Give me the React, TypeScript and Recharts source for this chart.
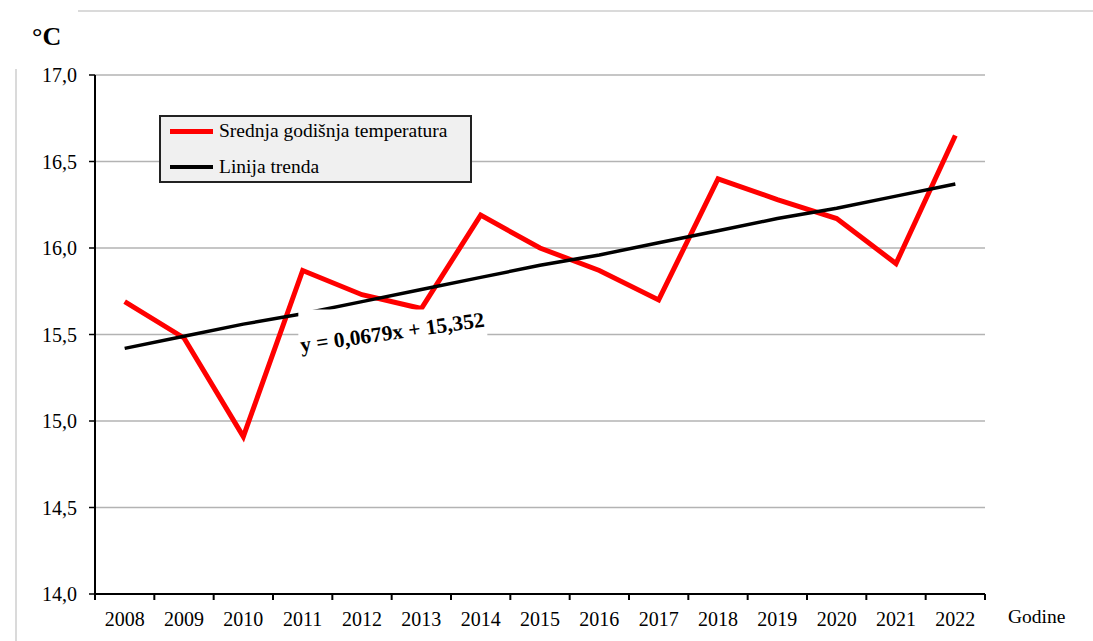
import React from 'react';
import { LineChart, Line, XAxis, YAxis, CartesianGrid, Legend, ReferenceDot } from 'recharts';

const years = ['2008', '2009', '2010', '2011', '2012', '2013', '2014', '2015', '2016', '2017', '2018', '2019', '2020', '2021', '2022'];
const temperature = [15.69, 15.48, 14.91, 15.87, 15.73, 15.65, 16.19, 16.0, 15.87, 15.7, 16.4, 16.28, 16.17, 15.91, 16.65];
const trend = [15.42, 15.49, 15.56, 15.62, 15.69, 15.76, 15.83, 15.9, 15.96, 16.03, 16.1, 16.17, 16.23, 16.3, 16.37];
const yTicks = [14, 14.5, 15, 15.5, 16, 16.5, 17];
const seriesNames = ['Srednja godišnja temperatura', 'Linija trenda'];
const trendEquation = 'y = 0,0679x + 15,352';
const unitLabel = '°C';
const xAxisTitle = 'Godine';
const equationAnchorYear = '2013';
const equationAnchorValue = 15.5;

const data = years.map((year, i) => ({ year, temp: temperature[i], trend: trend[i] }));

const FONT = '"Liberation Serif", "Times New Roman", serif';
const X_TICK_SIZE = 6;
const X_TICK_MARGIN = 12;

const XTick = (props: any) => {
  const { x, y, payload, index, visibleTicksCount, width } = props;
  const half = width && visibleTicksCount ? width / visibleTicksCount / 2 : (payload && payload.offset) || 29.67;
  const axisY = y - X_TICK_SIZE - X_TICK_MARGIN;
  return (
    <g>
      <line x1={x - half} x2={x - half} y1={axisY} y2={axisY + X_TICK_SIZE} stroke="#000" strokeWidth={2} />
      {index === visibleTicksCount - 1 && (
        <line x1={x + half} x2={x + half} y1={axisY} y2={axisY + X_TICK_SIZE} stroke="#000" strokeWidth={2} />
      )}
      <text x={x} y={y} dy="0.71em" textAnchor="middle" fontFamily={FONT} fontSize={20} fill="#000">
        {payload.value}
      </text>
    </g>
  );
};

const EquationLabel = (props: any) => {
  const vb = props.viewBox || {};
  const cx = vb.x + (vb.width || 0) / 2;
  const cy = vb.y + (vb.height || 0) / 2;
  const tx = cx - 29;
  const ty = cy - 2;
  return (
    <g>
      <rect x={cx - 123} y={cy - 25} width={189} height={50} fill="#ffffff" />
      <text
        x={tx}
        y={ty}
        transform={`rotate(-8 ${tx} ${ty})`}
        textAnchor="middle"
        dominantBaseline="central"
        fontFamily={FONT}
        fontWeight="bold"
        fontSize={21.5}
        fill="#000"
      >
        {trendEquation}
      </text>
    </g>
  );
};

const UnitLabel = (props: any) => {
  const vb = props.viewBox || {};
  return (
    <text x={vb.x + 32} y={vb.y - 30} fontFamily={FONT} fontWeight="bold" fontSize={26} fill="#000">
      {unitLabel}
    </text>
  );
};

const XTitle = (props: any) => {
  const vb = props.viewBox || {};
  return (
    <text x={vb.x + vb.width + 23} y={vb.y + 29} fontFamily={FONT} fontSize={19.5} fill="#000">
      {xAxisTitle}
    </text>
  );
};

const LegendBox = (props: any) => {
  const payload = [...(props.payload || [])].sort(
    (a: any, b: any) => seriesNames.indexOf(a.value) - seriesNames.indexOf(b.value)
  );
  return (
    <div
      style={{
        width: 313,
        height: 68,
        boxSizing: 'border-box',
        background: '#f0f0f0',
        border: '2px solid #222',
        fontFamily: FONT,
        fontSize: 19.5,
        color: '#000',
      }}
    >
      {payload.map((entry: any, i: number) => (
        <div
          key={i}
          style={{ display: 'flex', alignItems: 'center', height: 28, marginTop: i === 0 ? 0 : 8, marginLeft: 9 }}
        >
          <div style={{ width: 43, height: i === 0 ? 5 : 4, background: entry.color, marginRight: 6 }} />
          <span style={{ whiteSpace: 'nowrap', lineHeight: '28px' }}>{entry.value}</span>
        </div>
      ))}
    </div>
  );
};

export default function App() {
  return (
    <div style={{ position: 'absolute', left: 0, top: 0, width: 1093, height: 641, background: '#fff' }}>
      <div style={{ position: 'absolute', left: 78, top: 10, width: 1015, height: 2, background: '#dadada' }} />
      <div style={{ position: 'absolute', left: 15, top: 69, width: 2, height: 572, background: '#dadada' }} />
      <LineChart width={1093} height={641} data={data} margin={{ top: 75, right: 108, bottom: 0, left: 0 }}>
        <CartesianGrid vertical={false} stroke="#b3b3b3" strokeWidth={1.5} />
        <XAxis
          dataKey="year"
          scale="band"
          height={47}
          tickLine={false}
          tickSize={X_TICK_SIZE}
          tickMargin={X_TICK_MARGIN}
          tick={<XTick />}
          axisLine={{ stroke: '#000', strokeWidth: 2 }}
          interval={0}
          label={XTitle}
        />
        <YAxis
          width={95}
          domain={[14, 17]}
          ticks={yTicks}
          interval={0}
          tickSize={6}
          tickMargin={12}
          tickFormatter={(v: number) => v.toFixed(1).replace('.', ',')}
          tick={{ fontFamily: FONT, fontSize: 20, fill: '#000' }}
          tickLine={{ stroke: '#000', strokeWidth: 1.5 }}
          axisLine={{ stroke: '#000', strokeWidth: 2 }}
          label={UnitLabel}
        />
        <Legend
          layout="vertical"
          align="center"
          verticalAlign="middle"
          content={<LegendBox />}
          wrapperStyle={{ left: 159, top: 115, width: 313, height: 68 }}
        />
        <Line
          type="linear"
          dataKey="temp"
          name={seriesNames[0]}
          stroke="#ff0000"
          strokeWidth={5}
          dot={false}
          activeDot={false}
          isAnimationActive={false}
        />
        <Line
          type="linear"
          dataKey="trend"
          name={seriesNames[1]}
          stroke="#000000"
          strokeWidth={3.5}
          dot={false}
          activeDot={false}
          isAnimationActive={false}
        />
        <ReferenceDot
          x={equationAnchorYear}
          y={equationAnchorValue}
          r={0}
          fill="none"
          stroke="none"
          label={EquationLabel}
        />
      </LineChart>
    </div>
  );
}
